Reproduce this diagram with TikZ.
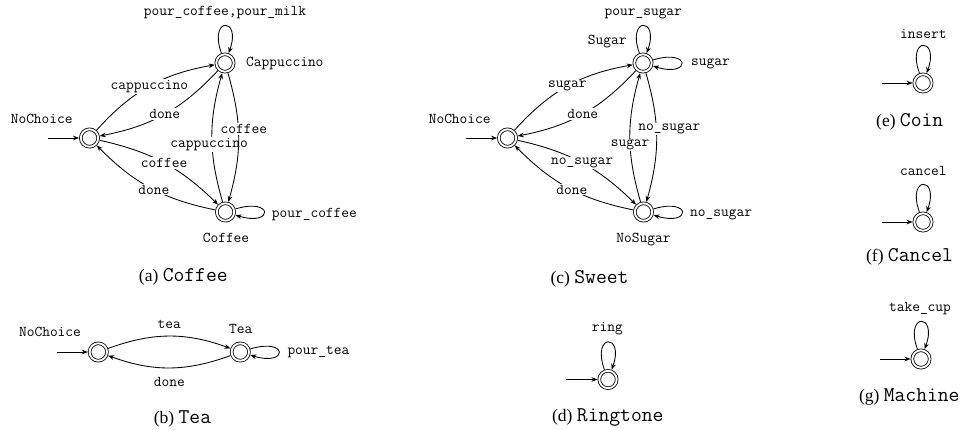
\documentclass[tikz,border=0pt]{standalone}
\usepackage{fontspec}
\setmainfont{Liberation Serif}
\newfontfamily\serf{Liberation Serif}
\usetikzlibrary{arrows.meta}
\newcommand\lblf{\ttfamily\fontsize{15}{17}\selectfont}
\newcommand\capmf{\ttfamily\fontsize{21}{23}\selectfont}
\newcommand\capsf{\serf\fontsize{17.5}{21}\selectfont}
\begin{document}
\begin{tikzpicture}[x=1pt,y=-1pt,
  state/.style={circle, draw, double, double distance=1.9pt, line width=0.8pt,
    minimum size=17.4pt, inner sep=0pt, outer sep=1.75pt},
  arr/.style={-{Stealth[length=6pt,width=4.6pt]}, line width=0.85pt},
  lab/.style={font=\lblf, fill=white, inner sep=1.2pt},
  txt/.style={font=\lblf, inner sep=0pt},
  capt/.style={anchor=base, inner sep=0pt},
  loopa/.style={out=110,in=70,min distance=39pt,max distance=39pt},
  loopr/.style={out=17,in=-17,min distance=40pt,max distance=40pt}]
\useasboundingbox (0,0) rectangle (963,429);

% ---------------- (a) Coffee
\node[state] (N1) at (89.5,138) {};
\node[state] (C1) at (225,63) {};
\node[state] (F1) at (225.5,212) {};
\coordinate (N1i) at (48,138);
\draw[arr] (N1i) -- (N1);
\node[txt, anchor=base] (N1l) at (41.7,123.6) {NoChoice};
\node[txt, anchor=base west] (C1l) at (246,66.7) {Cappuccino};
\node[txt, anchor=base] (F1l) at (226,242.7) {Coffee};
\draw[arr] (N1) to[bend left=19] node[lab] {cappuccino} (C1);
\draw[arr] (C1) to[bend left=18] node[lab] {done} (N1);
\draw[arr] (N1) to[bend left=16] node[lab] {coffee} (F1);
\draw[arr] (F1) to[bend left=17] node[lab, pos=0.47] {done} (N1);
\draw[arr] (F1) to[bend left=16] node[lab, pos=0.44, xshift=-3pt] {cappuccino} (C1);
\draw[arr] (C1) to[bend left=16] node[lab, pos=0.43, xshift=5.5pt] {coffee} (F1);
\draw[arr] (C1) to[loopa] (C1);
\node[txt, anchor=base] (C1loop) at (225,15.5) {pour\_coffee,pour\_milk};
\draw[arr] (F1) to[loopr] (F1);
\node[txt, anchor=base west] (F1loop) at (271.7,217.5) {pour\_coffee};
\node[capt] (capa) at (183.3,281) {\capsf(a) \capmf Coffee};

% ---------------- (b) Tea
\node[state] (N2) at (98.3,352) {};
\node[state] (T2) at (240.3,352) {};
\coordinate (N2i) at (56.7,352);
\draw[arr] (N2i) -- (N2);
\node[txt, anchor=base] (N2l) at (50,336) {NoChoice};
\node[txt, anchor=base] (T2l) at (240.7,333.3) {Tea};
\draw[arr] (N2) to[bend left=20] node[txt, above=7pt] {tea} (T2);
\draw[arr] (T2) to[bend left=20] node[txt, below=9pt] {done} (N2);
\draw[arr] (T2) to[loopr] (T2);
\node[txt, anchor=base west] (T2loop) at (287.3,354.3) {pour\_tea};
\node[capt] (capb) at (182.5,423.5) {\capsf(b) \capmf Tea};

% ---------------- (c) Sweet
\node[state] (N3) at (507.5,138) {};
\node[state] (S3) at (643,63) {};
\node[state] (U3) at (643.5,212) {};
\coordinate (N3i) at (466,138);
\draw[arr] (N3i) -- (N3);
\node[txt, anchor=base] (N3l) at (459.7,123.6) {NoChoice};
\node[txt, anchor=base east] (S3l) at (626.7,44.7) {Sugar};
\node[txt, anchor=base] (U3l) at (643.5,242.7) {NoSugar};
\draw[arr] (N3) to[bend left=19] node[lab] {sugar} (S3);
\draw[arr] (S3) to[bend left=18] node[lab] {done} (N3);
\draw[arr] (N3) to[bend left=16] node[lab] {no\_sugar} (U3);
\draw[arr] (U3) to[bend left=17] node[lab, pos=0.47] {done} (N3);
\draw[arr] (U3) to[bend left=16] node[lab, pos=0.44] {sugar} (S3);
\draw[arr] (S3) to[bend left=16] node[lab, pos=0.43, xshift=13pt] {no\_sugar} (U3);
\draw[arr] (S3) to[loopa] (S3);
\node[txt, anchor=base] (S3loopa) at (643.3,15.5) {pour\_sugar};
\draw[arr] (S3) to[loopr] (S3);
\node[txt, anchor=base west] (S3loopr) at (691,65) {sugar};
\draw[arr] (U3) to[loopr] (U3);
\node[txt, anchor=base west] (U3loop) at (690,216.5) {no\_sugar};
\node[capt] (capc) at (589.5,283) {\capsf(c) \capmf Sweet};

% ---------------- (d) Ringtone
\node[state] (R4) at (608,379.5) {};
\coordinate (R4i) at (566,379.5);
\draw[arr] (R4i) -- (R4);
\draw[arr] (R4) to[loopa] (R4);
\node[txt, anchor=base] (R4loop) at (607.3,331) {ring};
\node[capt] (capd) at (607.8,421) {\capsf(d) \capmf Ringtone};

% ---------------- (e) Coin
\node[state] (E5) at (923,83) {};
\coordinate (E5i) at (881.7,83);
\draw[arr] (E5i) -- (E5);
\draw[arr] (E5) to[loopa] (E5);
\node[txt, anchor=base] (E5loop) at (923.3,38.5) {insert};
\node[capt] (cape) at (909.7,126) {\capsf(e) \capmf Coin};

% ---------------- (f) Cancel
\node[state] (E6) at (923,222) {};
\coordinate (E6i) at (881.7,222);
\draw[arr] (E6i) -- (E6);
\draw[arr] (E6) to[loopa] (E6);
\node[txt, anchor=base] (E6loop) at (923.3,175.5) {cancel};
\node[capt] (capf) at (909.5,261) {\capsf(f) \capmf Cancel};

% ---------------- (g) Machine
\node[state] (E7) at (921,359) {};
\coordinate (E7i) at (880,359);
\draw[arr] (E7i) -- (E7);
\draw[arr] (E7) to[loopa] (E7);
\node[txt, anchor=base] (E7loop) at (920,311) {take\_cup};
\node[capt] (capg) at (909.3,401) {\capsf(g) \capmf Machine};
\end{tikzpicture}
\end{document}
